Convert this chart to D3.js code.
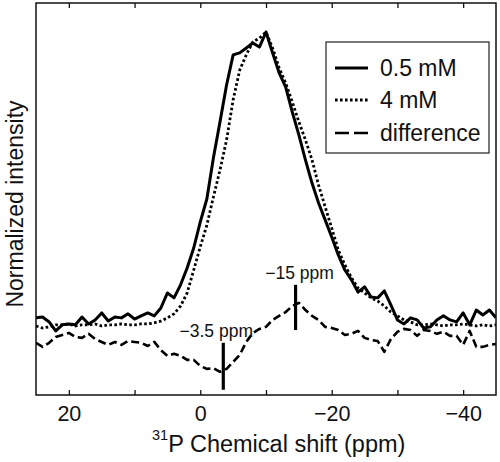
<!DOCTYPE html>
<html>
<head>
<meta charset="utf-8">
<script src="https://cdn.jsdelivr.net/npm/d3@7"></script>
<style>
  html, body { margin: 0; padding: 0; background: #fff; }
  svg { display: block; font-family: "Liberation Sans", Arial, sans-serif; }
</style>
</head>
<body>
<svg id="chart" width="500" height="462"></svg>
<script>
// Chemical shift grid (ppm), from 25 down to -45
const shift = d3.range(25, -46, -1);

// 0.5 mM spectrum (normalized intensity)
const conc05 = [
  0.014, 0.017, 0.000, -0.031, -0.010, -0.007, -0.010, 0.017, -0.007, 0.007,
  0.031, 0.003, 0.017, 0.014, 0.028, 0.010, 0.021, 0.031, 0.021, 0.048,
  0.100, 0.083, 0.128, 0.186, 0.255, 0.345, 0.424, 0.566, 0.690, 0.817,
  0.921, 0.928, 0.945, 0.962, 0.948, 1.000, 0.928, 0.859, 0.810, 0.724,
  0.645, 0.559, 0.479, 0.410, 0.352, 0.293, 0.231, 0.179, 0.145, 0.103,
  0.121, 0.086, 0.083, 0.107, 0.059, 0.007, -0.007, 0.014, 0.007, -0.021,
  -0.017, 0.007, 0.021, 0.007, 0.000, 0.031, -0.010, 0.041, 0.024, 0.041,
  0.014
];

// 4 mM spectrum (normalized intensity)
const conc4 = [
  -0.014, -0.021, -0.017, -0.010, -0.010, -0.007, -0.014, -0.010, -0.010, -0.007,
  -0.014, -0.010, -0.010, -0.007, -0.010, -0.010, -0.007, -0.007, -0.003, 0.003,
  0.014, 0.028, 0.055, 0.100, 0.179, 0.259, 0.334, 0.431, 0.524, 0.628,
  0.766, 0.869, 0.921, 0.966, 0.979, 1.000, 0.945, 0.876, 0.824, 0.759,
  0.690, 0.628, 0.559, 0.472, 0.397, 0.324, 0.248, 0.197, 0.152, 0.117,
  0.100, 0.083, 0.072, 0.055, 0.034, 0.021, 0.007, 0.000, -0.010, -0.010,
  -0.007, -0.010, -0.014, -0.010, -0.010, -0.007, -0.010, -0.014, -0.010, -0.014,
  -0.010
];

// difference spectrum (offset)
const diff = [
  -0.072, -0.086, -0.072, -0.052, -0.045, -0.038, -0.052, -0.055, -0.041, -0.059,
  -0.069, -0.079, -0.069, -0.079, -0.066, -0.069, -0.072, -0.083, -0.069, -0.097,
  -0.117, -0.110, -0.117, -0.131, -0.131, -0.152, -0.162, -0.159, -0.172, -0.162,
  -0.138, -0.114, -0.069, -0.038, -0.024, -0.017, 0.007, 0.021, 0.034, 0.055,
  0.066, 0.041, 0.021, 0.007, -0.017, -0.021, -0.028, -0.045, -0.041, -0.031,
  -0.055, -0.062, -0.066, -0.103, -0.059, -0.034, -0.024, -0.028, -0.048, -0.028,
  -0.031, -0.041, -0.034, -0.048, -0.048, -0.079, -0.031, -0.086, -0.086, -0.079,
  -0.076
];

const seriesNames = ["0.5 mM", "4 mM", "difference"];
const xTicks = [20, 10, 0, -10, -20, -30, -40];
const xTickLabels = {"20": "20", "0": "0", "-20": "\u221220", "-40": "\u221240"};

// peak markers: position (ppm), vertical extent (intensity), label
const markerPos = [-3.5, -14.5];
const markerTop = [-0.072, 0.128];
const markerBottom = [-0.234, -0.028];
const markerLabels = ["\u22123.5 ppm", "\u221215 ppm"];

const svg = d3.select("#chart");
const L = 36, R = 496, T = 3, B = 395;

const x = d3.scaleLinear().domain([25, -45]).range([L, R]);
const y = d3.scaleLinear().domain([-0.252, 1.1]).range([B, T]);

// clip
svg.append("defs").append("clipPath").attr("id", "clip")
  .append("rect").attr("x", L).attr("y", T).attr("width", R - L).attr("height", B - T);

const line = d3.line().x(d => x(d[0])).y(d => y(d[1]));
const styles = [
  {dash: null, w: 3},
  {dash: "2.6,2.4", w: 2.8},
  {dash: "8,4", w: 2.6}
];
const data = [conc05, conc4, diff];

const g = svg.append("g").attr("clip-path", "url(#clip)");
// draw difference first, then 4 mM, then 0.5 mM on top
[2, 1, 0].forEach(i => {
  g.append("path")
    .datum(shift.map((s, k) => [s, data[i][k]]))
    .attr("d", line)
    .attr("fill", "none")
    .attr("stroke", "#000")
    .attr("stroke-width", styles[i].w)
    .attr("stroke-linejoin", "round")
    .attr("stroke-dasharray", styles[i].dash);
});

// markers
markerPos.forEach((p, i) => {
  svg.append("line")
    .attr("x1", x(p)).attr("x2", x(p))
    .attr("y1", y(markerTop[i])).attr("y2", y(markerBottom[i]))
    .attr("stroke", "#000").attr("stroke-width", 3.2);
  svg.append("text")
    .attr("x", x(p) + (i === 0 ? -7 : 4))
    .attr("y", y(markerTop[i]) - 6)
    .attr("text-anchor", "middle")
    .attr("font-size", 17.5)
    .attr("fill", "#111")
    .text(markerLabels[i]);
});

// axes: bottom and top with inward ticks
const axB = svg.append("g").attr("transform", `translate(0,${B})`)
  .call(d3.axisBottom(x).tickValues(xTicks).tickSizeInner(-5).tickSizeOuter(0)
    .tickFormat(d => xTickLabels[String(d)] || ""));
axB.select(".domain").remove();
axB.selectAll(".tick line").attr("stroke", "#111").attr("stroke-width", 1.3);
axB.selectAll(".tick text").attr("y", 26).attr("dy", 0)
  .attr("font-size", 21.5).attr("fill", "#111").attr("font-family", "Liberation Sans, Arial, sans-serif");

const axT = svg.append("g").attr("transform", `translate(0,${T})`)
  .call(d3.axisTop(x).tickValues(xTicks).tickSizeInner(-5).tickSizeOuter(0).tickFormat(""));
axT.select(".domain").remove();
axT.selectAll(".tick line").attr("stroke", "#111").attr("stroke-width", 1.3);

// frame
svg.append("rect").attr("x", L).attr("y", T).attr("width", R - L).attr("height", B - T)
  .attr("fill", "none").attr("stroke", "#111").attr("stroke-width", 1.5);

// axis titles
const xt = svg.append("text").attr("x", 152).attr("y", 452)
  .attr("font-size", 23.5).attr("fill", "#111");
xt.append("tspan").attr("font-size", 14.5).attr("dy", -12).text("31");
xt.append("tspan").attr("dy", 12).text("P Chemical shift (ppm)");

svg.append("text")
  .attr("transform", "translate(22.5,204) rotate(-90)")
  .attr("text-anchor", "middle")
  .attr("font-size", 23).attr("fill", "#111")
  .text("Normalized intensity");

// legend
const lg = svg.append("g");
lg.append("rect").attr("x", 326).attr("y", 42).attr("width", 163).attr("height", 111)
  .attr("fill", "#fff").attr("stroke", "#222").attr("stroke-width", 1.2);
const rowY = [68, 100, 133];
const legendDash = [null, "2.6,2.4", "14,5"];
seriesNames.forEach((name, i) => {
  lg.append("line").attr("x1", 335).attr("x2", 368).attr("y1", rowY[i]).attr("y2", rowY[i])
    .attr("stroke", "#000").attr("stroke-width", styles[i].w)
    .attr("stroke-dasharray", legendDash[i]);
  lg.append("text").attr("x", 380).attr("y", rowY[i] + 8)
    .attr("font-size", 23).attr("fill", "#111").text(name);
});
</script>
</body>
</html>
